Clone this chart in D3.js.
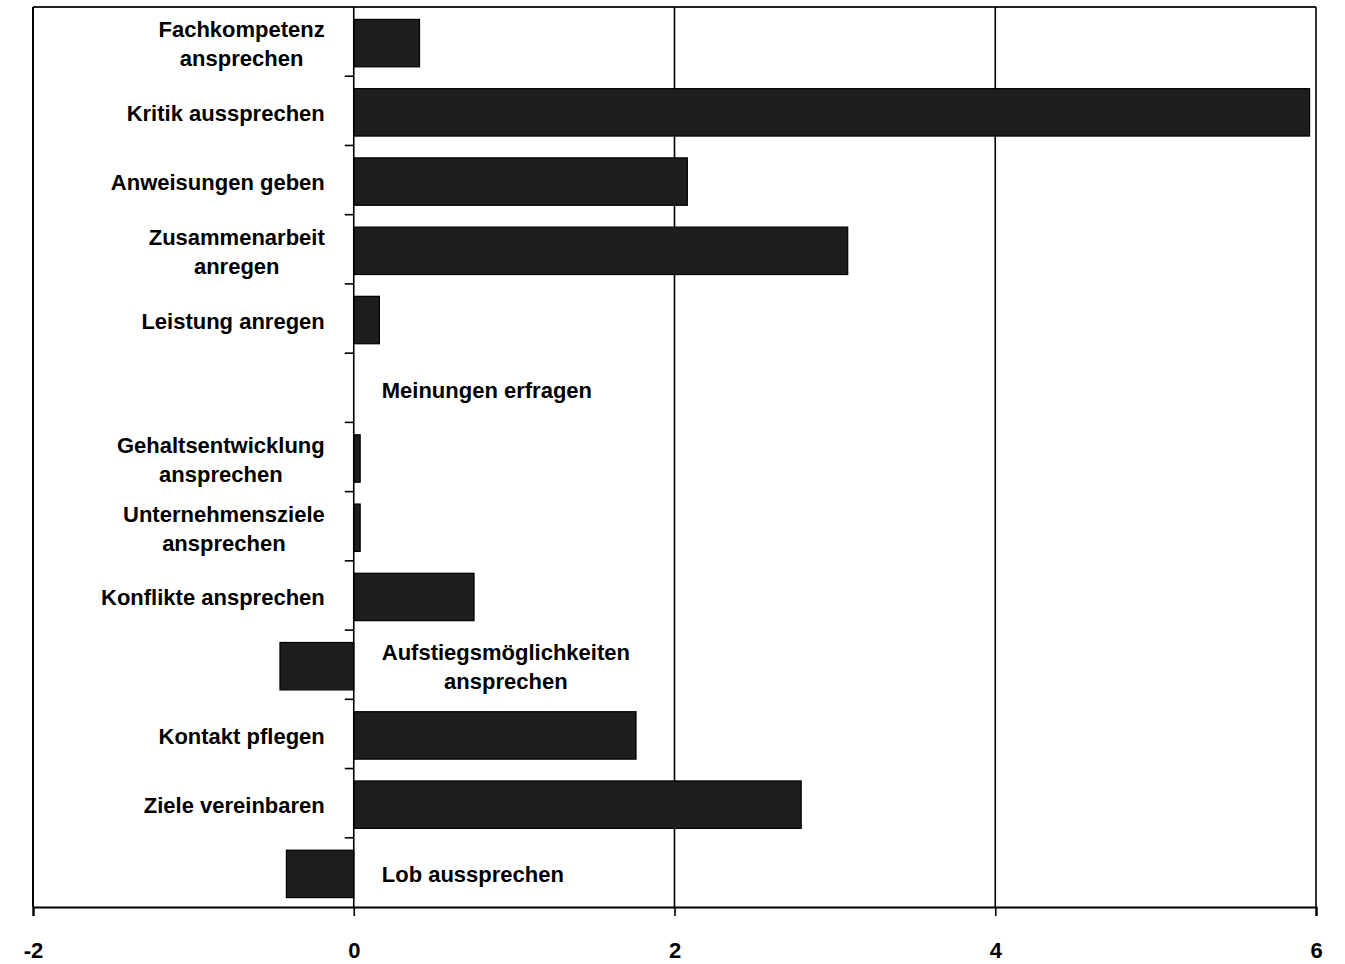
<!DOCTYPE html>
<html>
<head>
<meta charset="utf-8">
<script src="https://cdn.jsdelivr.net/npm/d3@7"></script>
<style>
  html, body { margin: 0; padding: 0; background: #fff; }
  svg { display: block; }
  text { font-family: "Liberation Sans", Arial, sans-serif; font-weight: bold; fill: #000; }
</style>
</head>
<body>
<svg id="chart" width="1345" height="964"></svg>
<script>
// ---- data ----
const categories = [
  "Fachkompetenz ansprechen",
  "Kritik aussprechen",
  "Anweisungen geben",
  "Zusammenarbeit anregen",
  "Leistung anregen",
  "Meinungen erfragen",
  "Gehaltsentwicklung ansprechen",
  "Unternehmensziele ansprechen",
  "Konflikte ansprechen",
  "Aufstiegsmöglichkeiten ansprechen",
  "Kontakt pflegen",
  "Ziele vereinbaren",
  "Lob aussprechen"
];
const labelLines = [
  ["Fachkompetenz", "ansprechen"],
  ["Kritik aussprechen"],
  ["Anweisungen geben"],
  ["Zusammenarbeit", "anregen"],
  ["Leistung anregen"],
  ["Meinungen erfragen"],
  ["Gehaltsentwicklung", "ansprechen"],
  ["Unternehmensziele", "ansprechen"],
  ["Konflikte ansprechen"],
  ["Aufstiegsmöglichkeiten", "ansprechen"],
  ["Kontakt pflegen"],
  ["Ziele vereinbaren"],
  ["Lob aussprechen"]
];
const values = [0.41, 5.96, 2.08, 3.08, 0.16, 0, 0.04, 0.04, 0.75, -0.46, 1.76, 2.79, -0.42];
const xTicks = [-2, 0, 2, 4, 6];
const xTickLabels = ["-2", "0", "2", "4", "6"];
const xDomain = [-2, 6];

// ---- layout ----
const svg = d3.select("#chart");
const pLeft = 33, pRight = 1316, pTop = 7, pBottom = 907;

const x = d3.scaleLinear().domain(xDomain).range([pLeft, pRight]);
const yBand = d3.scaleBand().domain(categories).range([pTop, pBottom]).paddingInner(0.315).paddingOuter(0.1575);
const yOuter = d3.scaleBand().domain(categories).range([pTop, pBottom]).padding(0);

// frame: top and left border
svg.append("line").attr("x1", pLeft).attr("x2", pRight).attr("y1", pTop).attr("y2", pTop)
  .attr("stroke", "#222").attr("stroke-width", 2);
svg.append("line").attr("x1", pLeft).attr("x2", pLeft).attr("y1", pTop).attr("y2", pBottom)
  .attr("stroke", "#000").attr("stroke-width", 2);

// vertical gridlines
svg.append("g").selectAll("line").data(xTicks.filter(d => d > 0)).join("line")
  .attr("x1", d => x(d)).attr("x2", d => x(d))
  .attr("y1", pTop).attr("y2", pBottom)
  .attr("stroke", "#000").attr("stroke-width", 1.6);

// bars
svg.append("g").attr("transform", "translate(0,1.5)")
  .selectAll("rect").data(categories).join("rect")
  .attr("x", (d, i) => x(Math.min(0, values[i])))
  .attr("width", (d, i) => Math.abs(x(values[i]) - x(0)))
  .attr("y", d => yBand(d))
  .attr("height", yBand.bandwidth())
  .attr("fill", "#1e1e1e")
  .attr("stroke", "#000")
  .attr("stroke-width", 1.2);

// zero axis (category axis)
const yAxisG = svg.append("g").attr("transform", `translate(${x(0)},0)`);
yAxisG.append("line").attr("x1", 0).attr("x2", 0).attr("y1", pTop).attr("y2", pBottom)
  .attr("stroke", "#000").attr("stroke-width", 1.6);
yAxisG.selectAll("line.tick").data(categories.slice(0, -1)).join("line")
  .attr("class", "tick")
  .attr("x1", -9).attr("x2", 0)
  .attr("y1", d => yOuter(d) + yOuter.bandwidth())
  .attr("y2", d => yOuter(d) + yOuter.bandwidth())
  .attr("stroke", "#000").attr("stroke-width", 1.6);

// bottom value axis
const xAxis = d3.axisBottom(x).tickValues(xTicks).tickSize(9).tickPadding(26.5)
  .tickFormat((d, i) => xTickLabels[i]);
const xAxisG = svg.append("g").attr("transform", `translate(0,${pBottom})`).call(xAxis);
xAxisG.attr("font-family", null).attr("font-size", null);
xAxisG.select(".domain").attr("stroke", "#000").attr("stroke-width", 2.2);
xAxisG.selectAll(".tick line").attr("stroke", "#000").attr("stroke-width", 1.6);
xAxisG.selectAll(".tick text")
  .style("font-family", '"Liberation Sans", Arial, sans-serif')
  .style("font-weight", "bold")
  .style("font-size", "22px")
  .attr("fill", "#000");

// category labels
const fontSize = 22, lineH = 29;
const labelG = svg.append("g");
categories.forEach((c, i) => {
  const lines = labelLines[i];
  const cy = yOuter(c) + yOuter.bandwidth() / 2;
  const t = labelG.append("text")
    .attr("font-size", fontSize)
    .attr("text-anchor", "middle");
  const firstBase = cy + 10 - (lines.length - 1) * 14.5;
  lines.forEach((ln, k) => {
    t.append("tspan").attr("x", 0).attr("y", firstBase + k * lineH).text(ln);
  });
  let w = 0;
  t.selectAll("tspan").each(function () { w = Math.max(w, this.getComputedTextLength()); });
  const cx = values[i] > 0 ? x(0) - 29 - w / 2 : x(0) + 28 + w / 2;
  t.selectAll("tspan").attr("x", cx);
});
</script>
</body>
</html>
